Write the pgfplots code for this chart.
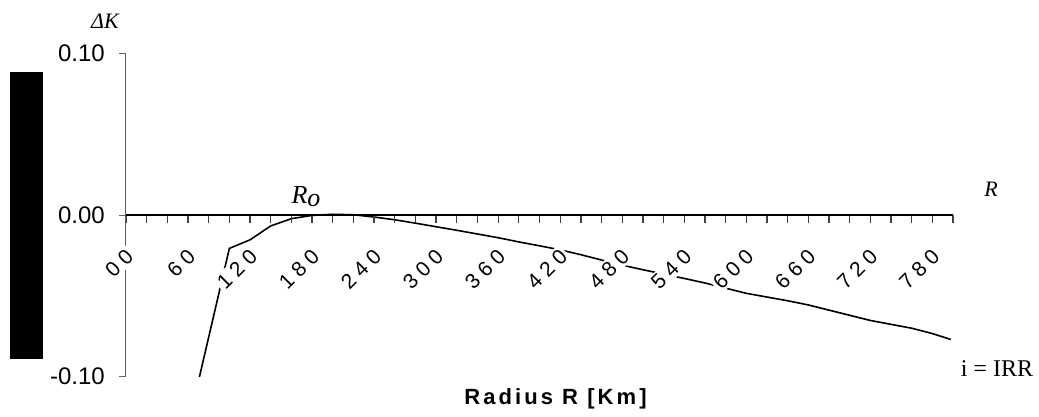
\documentclass[border=0pt]{standalone}
\usepackage{fontspec}
\setmainfont{Liberation Serif}
\newfontfamily\arial{Liberation Sans}
\newfontfamily\arialsp{Liberation Sans}[LetterSpace=28]
\newfontfamily\arialb{Liberation Sans}[LetterSpace=14]
\usepackage{pgfplots}
\pgfplotsset{compat=1.18}
\begin{document}
\begin{tikzpicture}[font=\arial]
\fill[black] (-116pt,17.7pt) rectangle (-83.3pt,304.7pt);
\begin{axis}[
  at={(0,0)}, anchor=south west,
  scale only axis, width=827pt, height=323.2pt,
  xmin=0, xmax=800, ymin=-0.1, ymax=0.1,
  set layers=axis on top,
  axis x line*=middle, axis y line*=left,
  hide obscured x ticks=false, hide obscured y ticks=false,
  x axis line style={black, line width=1.3pt},
  y axis line style={black!65, line width=1pt},
  tick align=outside,
  major tick length=7pt,
  tick style={black!60, line width=1pt},
  xtick={0,60,...,780},
  xtick style={draw=none},
  xticklabels={00,60,120,180,240,300,360,420,480,540,600,660,720,780},
  xticklabel style={font=\arialsp\fontsize{21}{21}\selectfont, fill=white, inner sep=2pt,
     xshift=5pt, yshift=-29pt, rotate=45, anchor=east},
  ytick={-0.1,0,0.1},
  yticklabels={-0.10,0.00,0.10},
  yticklabel style={font=\arial\fontsize{24}{24}\selectfont, anchor=east, inner sep=0pt, xshift=-14pt},
  clip=true,
]
\addplot[black, line width=1.6pt] coordinates {
 (60,-0.1304) (89,-0.0508) (100,-0.0206) (120,-0.0153) (140,-0.0067) (160,-0.0022)
 (180,-0.0002) (200,0.0005) (220,0.0002) (240,-0.0012) (260,-0.0029) (280,-0.0050)
 (300,-0.0072) (320,-0.0094) (340,-0.0117) (360,-0.0140) (380,-0.0166) (400,-0.0190)
 (420,-0.0215) (440,-0.0245) (460,-0.0278) (480,-0.0310) (500,-0.0338) (520,-0.0365)
 (540,-0.0392) (560,-0.0420) (580,-0.0452) (600,-0.0484) (620,-0.0507) (640,-0.0530)
 (660,-0.0556) (680,-0.0588) (700,-0.0620) (720,-0.0652) (740,-0.0676) (760,-0.0700)
 (780,-0.0733) (798,-0.0770)
};
\end{axis}
\node[font=\itshape\fontsize{22}{22}\selectfont] at (-21pt,355.7pt) {ΔK};
\node[font=\itshape\fontsize{26}{26}\selectfont] at (180pt,179.7pt) {R\raisebox{-3pt}{o}};
\node[font=\itshape\fontsize{22}{22}\selectfont] at (865pt,187.7pt) {R};
\node[font=\fontsize{24}{24}\selectfont] at (871pt,7.7pt) {i = IRR};
\node[font=\arialb\bfseries\fontsize{22}{22}\selectfont] at (429.5pt,-22.3pt) {Radius R [Km]};
\foreach \i in {0,1,...,40} {
  \draw[black!75, line width=1.3pt] (\i*20.675pt,162pt) -- (\i*20.675pt,153.5pt);
}
\pgfresetboundingbox
\useasboundingbox (-126pt,-40.3pt) rectangle (913pt,376.7pt);
\end{tikzpicture}
\end{document}
